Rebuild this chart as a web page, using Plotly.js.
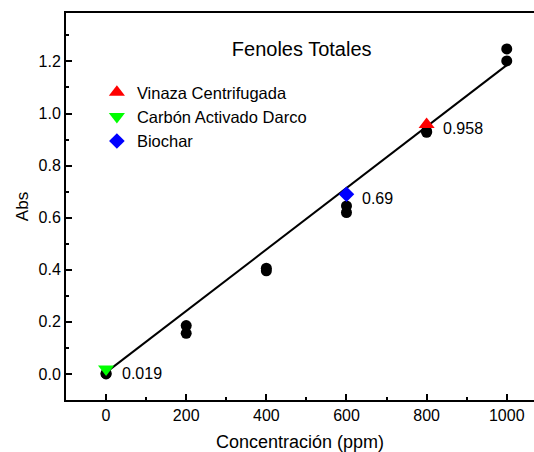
<!DOCTYPE html>
<html>
<head>
<meta charset="utf-8">
<script src="https://cdn.plot.ly/plotly-3.0.1.min.js"></script>
<style>html,body{margin:0;padding:0;background:#fff;}#chart{width:534px;height:452px;}</style>
</head>
<body>
<div id="chart"></div>
<script>
// Calibration data (black circles)
const concentration = [0, 0, 200, 200, 400, 400, 600, 600, 800, 800, 1000, 1000];
const absorbance = [0.002, 0.0, 0.186, 0.156, 0.406, 0.396, 0.645, 0.620, 0.932, 0.928, 1.248, 1.202];

// Linear fit line
const fitX = [0, 1000];
const fitY = [0.006, 1.186];

// Samples
const sampleNames = ["Vinaza Centrifugada", "Carbón Activado Darco", "Biochar"];
const sampleX = [800, 0, 600];
const sampleY = [0.958, 0.019, 0.69];
const sampleLabels = ["0.958", "0.019", "0.69"];
const sampleSymbols = ["triangle-up", "triangle-down", "diamond"];
const sampleColors = ["#ff0000", "#00ff00", "#0000ff"];
const sampleSizes = [14, 14, 12];

const FONT = "Liberation Sans, Arial, sans-serif";

const traces = [];
traces.push({
  x: concentration, y: absorbance, mode: "markers", type: "scatter",
  marker: {symbol: "circle", color: "#000", size: 11}, showlegend: false
});
traces.push({
  x: fitX, y: fitY, mode: "lines", type: "scatter",
  line: {color: "#000", width: 2}, showlegend: false, hoverinfo: "skip"
});
for (let i = 0; i < sampleNames.length; i++) {
  traces.push({
    x: [sampleX[i]], y: [sampleY[i]], mode: "markers", type: "scatter",
    name: sampleNames[i],
    marker: {symbol: sampleSymbols[i], color: sampleColors[i], size: sampleSizes[i], line: {width: 0}}
  });
}

const annotations = sampleLabels.map((t, i) => ({
  x: sampleX[i], y: sampleY[i], xref: "x", yref: "y", text: t,
  showarrow: false, xanchor: "left", yanchor: "middle", xshift: 14, yshift: -4,
  font: {family: FONT, size: 16, color: "#000"}
}));

const layout = {
  width: 534, height: 452,
  margin: {l: 66, r: 0, t: 13, b: 52},
  paper_bgcolor: "#fff", plot_bgcolor: "#fff",
  font: {family: FONT, color: "#000"},
  title: {
    text: "Fenoles Totales", font: {family: FONT, size: 20, color: "#000"},
    xref: "container", yref: "container", x: 0.565, xanchor: "center", y: 0.892, yanchor: "middle"
  },
  xaxis: {
    range: [-100, 1068], tick0: 0, dtick: 200,
    showline: true, linecolor: "#000", linewidth: 2, mirror: true,
    ticks: "inside", ticklen: 6, tickwidth: 2, tickcolor: "#000",
    minor: {ticks: "inside", dtick: 100, ticklen: 3, tickwidth: 2, tickcolor: "#000"},
    showgrid: false, zeroline: false,
    tickfont: {family: FONT, size: 16, color: "#000"},
    title: {text: "Concentración (ppm)", font: {family: FONT, size: 18, color: "#000"}, standoff: 12}
  },
  yaxis: {
    range: [-0.1, 1.386], tick0: 0, dtick: 0.2, tickformat: ".1f",
    showline: true, linecolor: "#000", linewidth: 2, mirror: false,
    ticks: "inside", ticklen: 6, tickwidth: 2, tickcolor: "#000",
    minor: {ticks: "inside", dtick: 0.1, ticklen: 3, tickwidth: 2, tickcolor: "#000"},
    showgrid: false, zeroline: false,
    tickfont: {family: FONT, size: 16, color: "#000"},
    title: {text: "Abs", font: {family: FONT, size: 17, color: "#000"}, standoff: 6}
  },
  legend: {
    x: 0.066, xanchor: "left", y: 0.84, yanchor: "top",
    bgcolor: "rgba(0,0,0,0)", borderwidth: 0,
    font: {family: FONT, size: 16.5, color: "#000"}, tracegroupgap: 0
  },
  annotations: annotations,
  showlegend: true
};

Plotly.newPlot("chart", traces, layout, {staticPlot: true, displayModeBar: false});
</script>
</body>
</html>
